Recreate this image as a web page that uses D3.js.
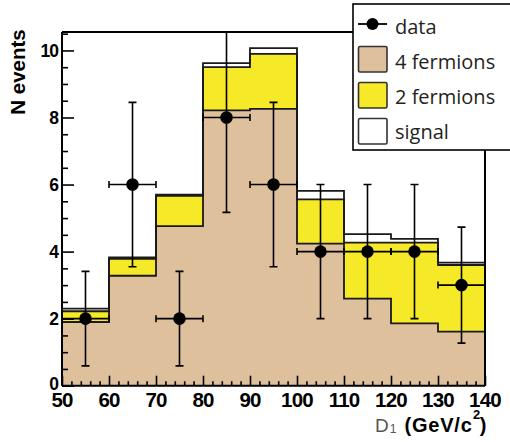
<!DOCTYPE html>
<html>
<head>
<meta charset="utf-8">
<script src="https://d3js.org/d3.v7.min.js"></script>
<style>
  body { margin: 0; background: #fff; }
  svg { display: block; }
  .tick-label { font-family: "Liberation Sans", Arial, sans-serif; font-weight: bold; fill: #000; }
  .legend-text { font-family: "Open Sans", sans-serif; font-size: 20px; fill: #231f20; }
</style>
</head>
<body>
<div id="chart"></div>
<script>
// bins (lower edges, GeV/c^2)
const binEdges = [50, 60, 70, 80, 90, 100, 110, 120, 130, 140];
// stacked backgrounds, per bin
const fourFermions = [1.9, 3.28, 4.76, 8.21, 8.26, 4.24, 2.6, 1.86, 1.61];
const twoFermions  = [0.32, 0.5, 0.9, 1.29, 1.64, 1.32, 1.67, 2.41, 1.99];
const signal       = [0.08, 0.05, 0.04, 0.12, 0.17, 0.25, 0.25, 0.11, 0.07];
// data points
const dataX   = [55, 65, 75, 85, 95, 105, 115, 125, 135];
const dataY   = [2, 6, 2, 8, 6, 4, 4, 4, 3];
const dataErr = [1.41, 2.45, 1.41, 2.83, 2.45, 2, 2, 2, 1.73];
// axis ticks
const yTickLabels = [0, 2, 4, 6, 8, 10];
const xTickLabels = [50, 60, 70, 80, 90, 100, 110, 120, 130, 140];
const legendLabels = ["data", "4 fermions", "2 fermions", "signal"];

const W = 510, H = 442;
const plotLeft = 62, plotRight = 485, plotTop = 32, plotBottom = 385.7;
const legendX = 353, legendBottom = 150;

const tan = "#dfc09d", yellow = "#f6e927";

const svg = d3.select("#chart").append("svg")
  .attr("width", W).attr("height", H);

const x = d3.scaleLinear().domain([50, 140]).range([plotLeft, plotRight]);
const y = d3.scaleLinear().domain([0, 10.55]).range([plotBottom, plotTop]);

// cumulative stack
const layers = [];
let base = fourFermions.map(() => 0);
[fourFermions, twoFermions, signal].forEach(vals => {
  const lo = base.slice();
  const hi = base.map((b, i) => b + vals[i]);
  layers.push({ lo, hi });
  base = hi;
});

function stepPoints(lo, hi) {
  const pts = lo.map((l, i) => ({ x: binEdges[i], lo: l, hi: hi[i] }));
  pts.push({ x: binEdges[binEdges.length - 1], lo: lo[lo.length - 1], hi: hi[hi.length - 1] });
  return pts;
}

const area = d3.area()
  .curve(d3.curveStepAfter)
  .x(d => x(d.x)).y0(d => y(d.lo)).y1(d => y(d.hi));
const topLine = d3.line()
  .curve(d3.curveStepAfter)
  .x(d => x(d.x)).y(d => y(d.hi));

const fills = [tan, yellow, "#ffffff"];
[2, 1, 0].forEach(k => {
  const pts = stepPoints(layers[k].lo, layers[k].hi);
  svg.append("path").datum(pts).attr("d", area).attr("fill", fills[k]).attr("stroke", "none");
});
[2, 1, 0].forEach(k => {
  const pts = stepPoints(layers[k].lo, layers[k].hi);
  svg.append("path").datum(pts).attr("d", topLine)
    .attr("fill", "none").attr("stroke", "#1a1a1a").attr("stroke-width", 1.8);
});
svg.append("line").attr("x1", x(140)).attr("x2", x(140))
  .attr("y1", y(base[base.length - 1])).attr("y2", plotBottom)
  .attr("stroke", "#1a1a1a").attr("stroke-width", 1.8);

// data points with error bars
svg.append("clipPath").attr("id", "plotclip")
  .append("rect").attr("x", plotLeft).attr("y", plotTop)
  .attr("width", plotRight - plotLeft).attr("height", plotBottom - plotTop);
const pts = svg.append("g").attr("clip-path", "url(#plotclip)");
const cap = 4, hcap = 3.5;
dataX.forEach((dx, i) => {
  const cx = x(dx), cy = y(dataY[i]);
  const g = pts.append("g").attr("stroke", "#000").attr("stroke-width", 1.6);
  g.append("line").attr("x1", cx).attr("x2", cx).attr("y1", y(dataY[i] - dataErr[i])).attr("y2", y(dataY[i] + dataErr[i]));
  g.append("line").attr("x1", cx - cap).attr("x2", cx + cap).attr("y1", y(dataY[i] + dataErr[i])).attr("y2", y(dataY[i] + dataErr[i]));
  g.append("line").attr("x1", cx - cap).attr("x2", cx + cap).attr("y1", y(dataY[i] - dataErr[i])).attr("y2", y(dataY[i] - dataErr[i]));
  g.append("line").attr("x1", x(dx - 5)).attr("x2", x(dx + 5)).attr("y1", cy).attr("y2", cy);
  g.append("line").attr("x1", x(dx - 5)).attr("x2", x(dx - 5)).attr("y1", cy - hcap).attr("y2", cy + hcap);
  g.append("line").attr("x1", x(dx + 5)).attr("x2", x(dx + 5)).attr("y1", cy - hcap).attr("y2", cy + hcap);
  pts.append("circle").attr("cx", cx).attr("cy", cy).attr("r", 6.3).attr("fill", "#000");
});

// frame
const frame = svg.append("g").attr("stroke", "#000").attr("stroke-width", 2).attr("fill", "none");
frame.append("line").attr("x1", plotLeft).attr("x2", plotLeft).attr("y1", plotTop).attr("y2", plotBottom);
frame.append("line").attr("x1", plotLeft).attr("x2", plotRight).attr("y1", plotBottom).attr("y2", plotBottom);
frame.append("line").attr("x1", plotLeft).attr("x2", legendX).attr("y1", plotTop).attr("y2", plotTop);
frame.append("line").attr("x1", plotRight).attr("x2", plotRight).attr("y1", legendBottom).attr("y2", plotBottom);

// y ticks (inside)
const yAxis = d3.axisRight(y).tickValues(d3.range(0, 10.51, 0.5))
  .tickSize(0).tickFormat("");
svg.append("g").attr("transform", `translate(${plotLeft},0)`).call(yAxis)
  .call(g => g.select(".domain").remove())
  .call(g => g.selectAll(".tick line")
    .attr("x2", d => (d % 2 === 0 ? 12 : 6)).attr("stroke", "#000").attr("stroke-width", 1.6));
svg.append("g").selectAll("text").data(yTickLabels).join("text")
  .attr("class", "tick-label")
  .attr("x", 58).attr("y", d => y(d) + 6.5 - (d === 0 ? 2 : 0))
  .attr("text-anchor", "end")
  .style("font-size", "17.5px").style("letter-spacing", "-1px")
  .text(d => d);

// x ticks (inside)
const xAxis = d3.axisTop(x).tickValues(d3.range(50, 140.1, 2))
  .tickSize(0).tickFormat("");
svg.append("g").attr("transform", `translate(0,${plotBottom})`).call(xAxis)
  .call(g => g.select(".domain").remove())
  .call(g => g.selectAll(".tick line")
    .attr("y2", d => (d % 10 === 0 ? -10 : -4.5)).attr("stroke", "#000").attr("stroke-width", 1.6));
svg.append("g").selectAll("text").data(xTickLabels).join("text")
  .attr("class", "tick-label")
  .attr("x", d => x(d)).attr("y", 407)
  .attr("text-anchor", "middle")
  .style("font-size", "20.5px").style("letter-spacing", "-0.8px")
  .text(d => d);

// axis titles
svg.append("text")
  .attr("class", "tick-label")
  .attr("transform", "translate(25,72) rotate(-90)")
  .attr("text-anchor", "middle")
  .style("font-size", "20.5px")
  .text("N events");

const xt = svg.append("text").attr("x", 375).attr("y", 432)
  .style("font-family", "'Liberation Sans', Arial, sans-serif");
xt.append("tspan").attr("fill", "#555").style("font-size", "19px").text("D");
xt.append("tspan").attr("fill", "#555").style("font-size", "12px").attr("dx", 1).attr("dy", 1).text("1");
xt.append("tspan").attr("fill", "#000").style("font-weight", "bold").style("font-size", "20px")
  .style("letter-spacing", "0.8px").attr("dx", 8).attr("dy", -1).text("(GeV/c");
xt.append("tspan").attr("fill", "#000").style("font-weight", "bold").style("font-size", "13px")
  .attr("dx", 0.5).attr("dy", -13).text("2");
xt.append("tspan").attr("fill", "#000").style("font-weight", "bold").style("font-size", "20px")
  .attr("dx", -0.5).attr("dy", 13).text(")");

// legend
const lg = svg.append("g");
lg.append("rect").attr("x", legendX).attr("y", 4).attr("width", 170).attr("height", legendBottom - 4)
  .attr("fill", "#fff").attr("stroke", "#000").attr("stroke-width", 1.6);
const rowY = i => 33.5 + i * 35.3;
lg.selectAll("text").data(legendLabels).join("text")
  .attr("class", "legend-text")
  .attr("x", 395).attr("y", (d, i) => rowY(i))
  .text(d => d);
lg.append("line").attr("x1", 358).attr("x2", 387).attr("y1", 24).attr("y2", 24)
  .attr("stroke", "#000").attr("stroke-width", 1.8);
lg.append("circle").attr("cx", 372.5).attr("cy", 24).attr("r", 6).attr("fill", "#000");
lg.selectAll("rect.sw").data(fills).join("rect")
  .attr("class", "sw")
  .attr("x", 358.5).attr("width", 28.5)
  .attr("y", (d, i) => 46.5 + i * 36).attr("height", 25.5)
  .attr("rx", 1.5)
  .attr("fill", d => d).attr("stroke", "#333").attr("stroke-width", 1.6);
</script>
</body>
</html>
